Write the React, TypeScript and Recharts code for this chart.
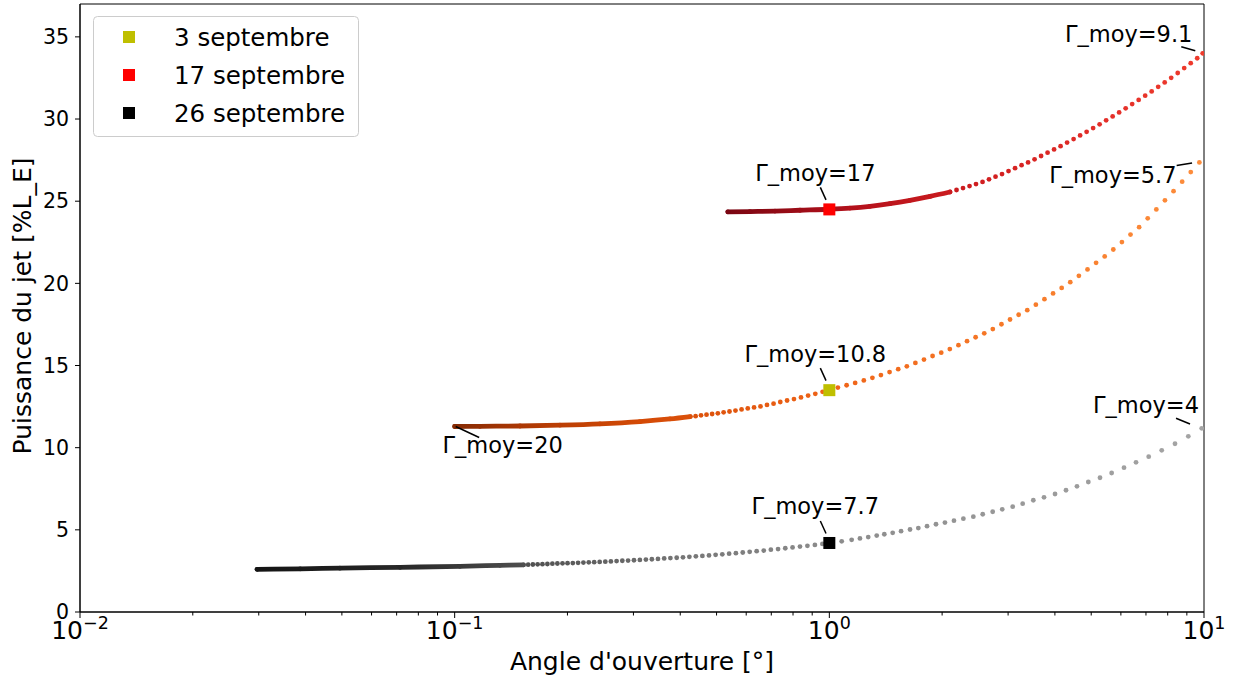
import { ScatterChart, Scatter, XAxis, YAxis, ReferenceArea, ReferenceDot } from 'recharts';

// 3 septembre
const orangeX = [0.1, 0.1168, 0.1494, 0.191, 0.2442, 0.3123, 0.3756,
  0.4255, 0.4396, 0.4545, 0.4701, 0.4866, 0.504, 0.5222, 0.5414, 0.5617, 0.5831, 0.6058, 0.6297, 0.655, 0.6817,
  0.7098, 0.7397, 0.7713, 0.8047, 0.8401, 0.8777, 0.9174, 0.9594, 1.0,
  1.054, 1.112, 1.172, 1.236, 1.303, 1.373, 1.448, 1.527, 1.61, 1.697, 1.789, 1.886, 1.989, 2.097, 2.211, 2.331,
  2.457, 2.591, 2.731, 2.88, 3.036, 3.201, 3.375, 3.558, 3.751, 3.955, 4.17, 4.396, 4.635, 4.887, 5.152, 5.432,
  5.727, 6.038, 6.366, 6.712, 7.076, 7.461, 7.866, 8.293, 8.744, 9.219, 9.72];
const orangeY = [11.29, 11.3, 11.32, 11.37, 11.45, 11.59, 11.75,
  11.89, 11.92, 11.97, 12.01, 12.05, 12.09, 12.15, 12.2, 12.26, 12.33, 12.39, 12.45, 12.51, 12.6,
  12.68, 12.78, 12.87, 12.96, 13.06, 13.17, 13.28, 13.4, 13.51,
  13.66, 13.8, 13.94, 14.09, 14.25, 14.42, 14.6, 14.78, 14.95, 15.16, 15.36, 15.58, 15.78, 16.0, 16.24, 16.48,
  16.72, 16.96, 17.22, 17.51, 17.8, 18.09, 18.37, 18.7, 19.04, 19.39, 19.72, 20.07, 20.46, 20.85, 21.25, 21.64,
  22.06, 22.51, 22.97, 23.42, 23.96, 24.5, 25.05, 25.61, 26.19, 26.77, 27.36];

// 17 septembre
const redX = [0.536, 0.614, 0.716, 0.835, 1.0, 1.135, 1.284, 1.452, 1.642, 1.857,
  2.099, 2.185, 2.274, 2.367, 2.463, 2.564, 2.668, 2.777, 2.89, 3.008, 3.131, 3.259, 3.392, 3.53, 3.674, 3.824,
  3.98, 4.142, 4.311, 4.487, 4.67, 4.861, 5.059, 5.265, 5.48, 5.704, 5.936, 6.179, 6.431, 6.693, 6.966, 7.25,
  7.546, 7.854, 8.174, 8.508, 8.855, 9.216, 9.592, 9.92];
const redY = [24.35, 24.37, 24.4, 24.45, 24.51, 24.58, 24.69, 24.85, 25.05, 25.29,
  25.56, 25.68, 25.8, 25.92, 26.04, 26.17, 26.33, 26.49, 26.65, 26.83, 27.01, 27.19, 27.36, 27.55, 27.75, 27.95,
  28.15, 28.35, 28.57, 28.78, 29.0, 29.22, 29.45, 29.68, 29.92, 30.16, 30.4, 30.65, 30.91, 31.16, 31.42, 31.68,
  31.96, 32.23, 32.51, 32.8, 33.1, 33.4, 33.7, 34.0];

// 26 septembre
const grayX = [0.0297, 0.0387, 0.0494, 0.0715, 0.1033, 0.1321,
  0.1526, 0.1571, 0.1617, 0.1665, 0.1715, 0.1768, 0.1823, 0.188, 0.194, 0.2001, 0.2067, 0.2135, 0.2206, 0.228,
  0.2357, 0.2438, 0.2524, 0.2612, 0.2705, 0.2802, 0.2903, 0.301, 0.3121, 0.3239, 0.336, 0.3488, 0.3624, 0.3765,
  0.3914, 0.4068, 0.4231, 0.4403, 0.4583, 0.4773, 0.4971, 0.518, 0.5401, 0.5631, 0.5874, 0.6129, 0.6398, 0.6683,
  0.6981, 0.7297, 0.7628, 0.7977, 0.8349, 0.8739, 0.9151, 0.9583, 1.0,
  1.079, 1.147, 1.207, 1.27, 1.338, 1.402, 1.476, 1.554, 1.642, 1.728, 1.823, 1.926, 2.035, 2.151, 2.279, 2.423,
  2.567, 2.729, 2.894, 3.086, 3.281, 3.503, 3.741, 4.003, 4.282, 4.581, 4.912, 5.277, 5.669, 6.117, 6.585, 7.119,
  7.712, 8.367, 9.081, 9.86];
const grayY = [2.6, 2.63, 2.67, 2.72, 2.78, 2.84,
  2.87, 2.88, 2.89, 2.9, 2.91, 2.92, 2.94, 2.95, 2.96, 2.97, 2.98, 2.99, 3.01, 3.02,
  3.03, 3.05, 3.06, 3.08, 3.1, 3.12, 3.13, 3.15, 3.17, 3.19, 3.21, 3.23, 3.26, 3.28,
  3.3, 3.33, 3.36, 3.39, 3.41, 3.44, 3.48, 3.51, 3.55, 3.58, 3.62, 3.66, 3.7, 3.74,
  3.79, 3.83, 3.88, 3.93, 3.98, 4.03, 4.08, 4.14, 4.2,
  4.3, 4.39, 4.48, 4.56, 4.65, 4.73, 4.82, 4.92, 5.02, 5.11, 5.22, 5.34, 5.44, 5.56, 5.68, 5.8,
  5.95, 6.1, 6.25, 6.41, 6.59, 6.8, 6.98, 7.18, 7.41, 7.65, 7.91, 8.17, 8.46, 8.78, 9.11, 9.45,
  9.84, 10.24, 10.69, 11.18];

const seriesNames = ['3 septembre', '17 septembre', '26 septembre'];
const markerX = [1, 1, 1];
const markerY = [13.5, 24.5, 4.2];

const yTicks = [0, 5, 10, 15, 20, 25, 30, 35];
const xMajor = [0.01, 0.1, 1, 10];
const xExponents = ['\u22122', '\u22121', '0', '1'];
const xMinor = [0.02, 0.03, 0.04, 0.05, 0.06, 0.07, 0.08, 0.09, 0.2, 0.3, 0.4, 0.5, 0.6, 0.7, 0.8, 0.9,
  2, 3, 4, 5, 6, 7, 8, 9];

const annLabels = ['\u0393_moy=17', '\u0393_moy=10.8', '\u0393_moy=7.7', '\u0393_moy=20', '\u0393_moy=9.1', '\u0393_moy=5.7', '\u0393_moy=4'];
const annX = [1, 1, 1, 0.1, 9.92, 9.72, 9.86];
const annY = [24.5, 13.5, 4.2, 11.29, 34.0, 27.36, 11.18];

// text offset [dx, dy] and connector [x1, y1, x2, y2], in px from the annotated point
const annOffsets = [
  { t: [-14, -28.5], l: [-9, -22, -3.3, -9.5] },
  { t: [-14, -28.5], l: [-9, -22, -3.3, -9.5] },
  { t: [-14, -28.5], l: [-9, -22, -3.3, -9.5] },
  { t: [48, 27], l: [1, 0, 24.5, 11] },
  { t: [-74, -11], l: [-21.4, -6.5, -7.4, -2.5] },
  { t: [-86.5, 21], l: [-22.7, 3.2, -7.3, 0.5] },
  { t: [-55.7, -15], l: [-25.7, -10, -11.7, -4.3] },
];

const FONT = '"DejaVu Sans", sans-serif';
const markerColors = ['#bfbf00', '#ff0000', '#000000'];

type Stop = [number, string];
const curveStyles: { stops: Stop[]; cut: number }[] = [
  { stops: [[0, '#862b04'], [0.1, '#b23a04'], [0.25, '#d44a06'], [0.5, '#ef6317'], [0.75, '#f67a29'], [1, '#fd8d3c']], cut: 0.43 },
  { stops: [[0, '#7a0612'], [0.25, '#b3111b'], [0.55, '#d21f20'], [0.8, '#e42f29'], [1, '#ef3b2c']], cut: 2.1 },
  { stops: [[0, '#141414'], [0.15, '#262626'], [0.28, '#4e4e4e'], [0.45, '#767676'], [0.6, '#8b8b8b'], [1, '#a5a5a5']], cut: 0.153 },
];

const hex = (h: string) => [1, 3, 5].map((i) => parseInt(h.slice(i, i + 2), 16));
function colorAt(stops: Stop[], t: number) {
  const tt = Math.max(0, Math.min(1, t));
  for (let i = 1; i < stops.length; i++) {
    if (tt <= stops[i][0]) {
      const [t0, c0] = stops[i - 1];
      const [t1, c1] = stops[i];
      const f = (tt - t0) / (t1 - t0);
      const a = hex(c0), b = hex(c1);
      const c = a.map((v, k) => Math.round(v + (b[k] - v) * f));
      return `rgb(${c[0]},${c[1]},${c[2]})`;
    }
  }
  return stops[stops.length - 1][1];
}

const curves = [[orangeX, orangeY], [redX, redY], [grayX, grayY]].map(([xs, ys], i) => {
  const l0 = Math.log10(xs[0]);
  const l1 = Math.log10(xs[xs.length - 1]);
  const tOf = (x: number) => (Math.log10(x) - l0) / (l1 - l0);
  const pts = xs.map((x, k) => ({ x, y: ys[k] }));
  const dense = pts.filter((p) => p.x <= curveStyles[i].cut);
  const tCut = tOf(dense[dense.length - 1].x);
  return { pts, dense, tOf, tCut, ...curveStyles[i] };
});

const XTick = (props: any) => {
  const { x, y, payload } = props;
  const i = xMajor.indexOf(payload.value);
  const major = i >= 0;
  return (
    <g>
      <line x1={x} y1={y} x2={x} y2={y + (major ? 6 : 3.5)} stroke="#000" strokeWidth={1} />
      {major && (
        <text x={x} y={y + 27} textAnchor="middle" fontSize={25} fill="#000" fontFamily={FONT}>
          <tspan>10</tspan>
          <tspan dy={-10} fontSize={17.5}>{xExponents[i]}</tspan>
        </text>
      )}
    </g>
  );
};

export default function App() {
  const allTicks = [...xMajor, ...xMinor].sort((a, b) => a - b);
  return (
    <div style={{ position: 'absolute', left: 0, top: 0, width: 1234, height: 679, background: '#fff', fontFamily: FONT }}>
      <ScatterChart width={1234} height={679} margin={{ top: 4, right: 30, bottom: 0, left: 0 }}>
        <defs>
          {curves.map((c, i) => (
            <linearGradient key={i} id={`dense${i}`} x1="0" y1="0" x2="1" y2="0">
              {[0, 0.2, 0.4, 0.6, 0.8, 1].map((o) => (
                <stop key={o} offset={o} stopColor={colorAt(c.stops, o * c.tCut)} />
              ))}
            </linearGradient>
          ))}
        </defs>
        <XAxis
          dataKey="x"
          type="number"
          scale="log"
          domain={[0.01, 10]}
          allowDataOverflow
          ticks={allTicks}
          interval={0}
          tick={<XTick />}
          tickLine={false}
          tickSize={0}
          tickMargin={0}
          height={67}
          axisLine={{ stroke: '#000' }}
        />
        <YAxis
          dataKey="y"
          type="number"
          domain={[0, 37]}
          ticks={yTicks}
          interval={0}
          width={80}
          tickSize={5}
          tickMargin={6}
          tick={{ fontSize: 20.5, fill: '#000', fontFamily: FONT }}
          tickLine={{ stroke: '#000' }}
          axisLine={{ stroke: '#000' }}
        />
        <ReferenceArea x1={0.01} x2={10} y1={0} y2={37} fill="none" stroke="#000" strokeWidth={1} />
        {curves.map((c, i) => (
          <Scatter
            key={`line${i}`}
            data={c.dense}
            isAnimationActive={false}
            lineJointType="monotoneX"
            line={{ stroke: `url(#dense${i})`, strokeWidth: 4.8, strokeLinecap: 'round', strokeLinejoin: 'round', fill: 'none' }}
            shape={() => <g />}
          />
        ))}
        {curves.map((c, i) => (
          <Scatter
            key={`dots${i}`}
            data={c.pts}
            isAnimationActive={false}
            shape={(p: any) => (
              <circle cx={p.cx} cy={p.cy} r={2.4} fill={colorAt(c.stops, c.tOf(p.payload?.x ?? p.node?.x ?? 1))} />
            )}
          />
        ))}
        {markerX.map((mx, i) => (
          <Scatter
            key={`m${i}`}
            name={seriesNames[i]}
            data={[{ x: mx, y: markerY[i] }]}
            isAnimationActive={false}
            shape={(p: any) => <rect x={p.cx - 6} y={p.cy - 6} width={12} height={12} fill={markerColors[i]} />}
          />
        ))}
        {annLabels.map((lab, i) => {
          const o = annOffsets[i];
          return (
            <ReferenceDot
              key={`a${i}`}
              x={annX[i]}
              y={annY[i]}
              r={0}
              shape={(p: any) => (
                <g>
                  <line x1={p.cx + o.l[0]} y1={p.cy + o.l[1]} x2={p.cx + o.l[2]} y2={p.cy + o.l[3]} stroke="#000" strokeWidth={1.5} />
                  <text x={p.cx + o.t[0]} y={p.cy + o.t[1]} textAnchor="middle" fontSize={22.5} fill="#000" fontFamily={FONT}>
                    {lab}
                  </text>
                </g>
              )}
            />
          );
        })}
      </ScatterChart>
      <svg width={1234} height={679} style={{ position: 'absolute', left: 0, top: 0, pointerEvents: 'none' }}>
        <rect x={93.5} y={16.5} width={265} height={120} rx={4} fill="#fff" fillOpacity={0.8} stroke="#cccccc" />
        {seriesNames.map((n, i) => (
          <g key={n}>
            <rect x={123} y={31 + 38 * i} width={12} height={12} fill={markerColors[i]} />
            <text x={174} y={46 + 38 * i} fontSize={24.5} fill="#000" fontFamily={FONT}>{n}</text>
          </g>
        ))}
        <text x={642} y={670} textAnchor="middle" fontSize={25} fill="#000" fontFamily={FONT}>
          Angle d'ouverture [°]
        </text>
        <text x={31} y={306} transform="rotate(-90 31 306)" textAnchor="middle" fontSize={25} fill="#000" fontFamily={FONT}>
          Puissance du jet [%L_E]
        </text>
      </svg>
    </div>
  );
}
